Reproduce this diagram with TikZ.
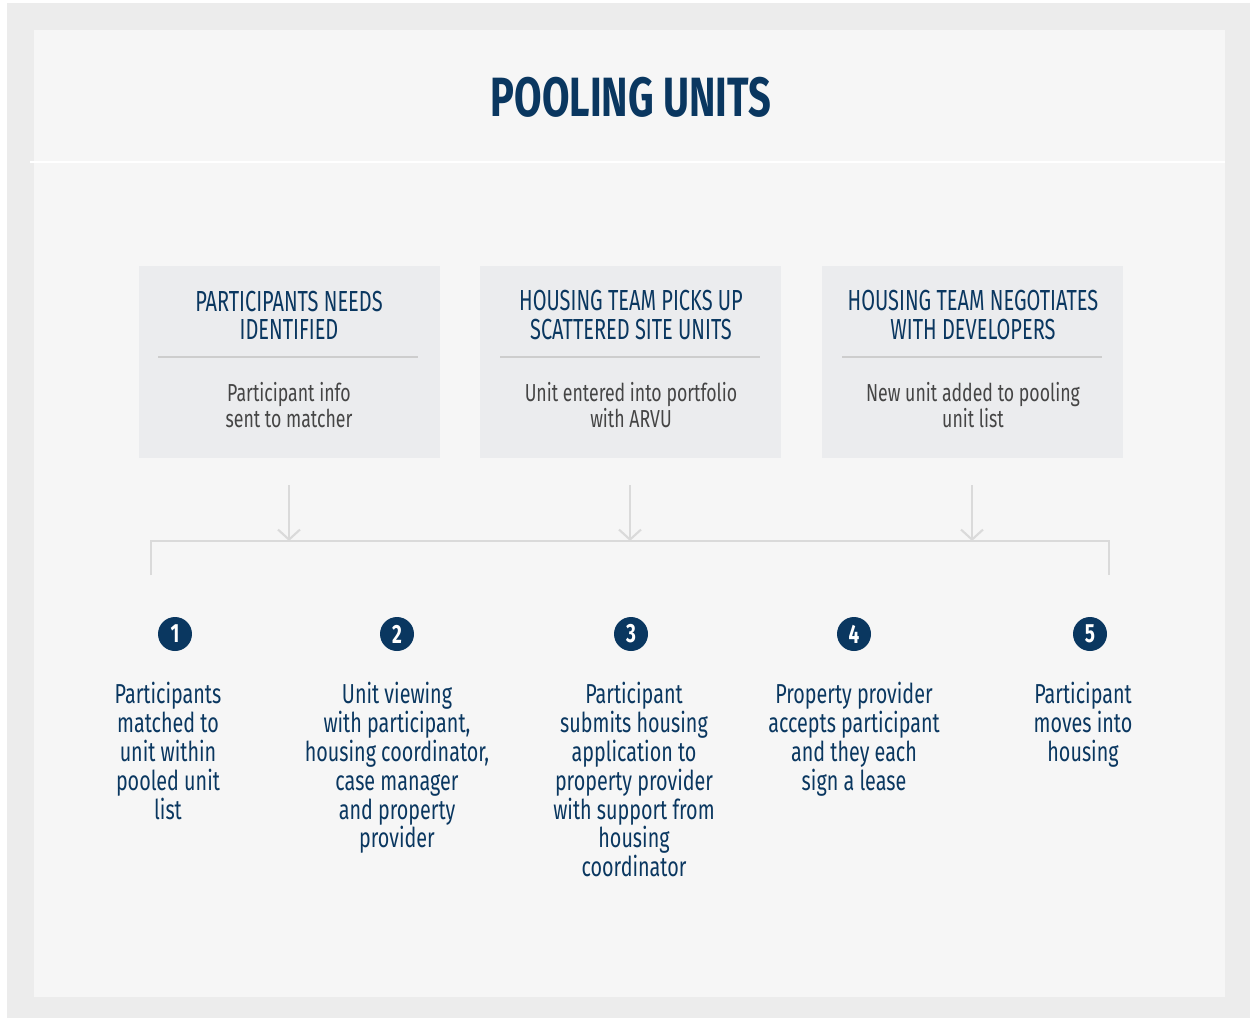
\documentclass[tikz,border=0pt]{standalone}
\usepackage{fontspec}
\setmainfont{Fira Sans}[FakeStretch=0.72]
\newfontfamily\headfont{Fira Sans}[FakeStretch=0.69]
\usetikzlibrary{arrows.meta}

\definecolor{navy}{HTML}{0A3760}
\definecolor{framegray}{HTML}{ECECEC}
\definecolor{panelgray}{HTML}{F6F6F6}
\definecolor{boxgray}{HTML}{EBECEE}
\definecolor{rulegray}{HTML}{CDCDCD}
\definecolor{linkgray}{HTML}{DADADA}
\definecolor{subgray}{HTML}{454545}

\tikzset{
  stagebox/.style={fill=boxgray, minimum width=6.02cm, minimum height=3.84cm, inner sep=0pt},
  stagehead/.style={text=navy, align=center, font=\headfont\fontsize{16.5}{16}\selectfont},
  stagesub/.style={text=subgray, align=center, font=\fontsize{14}{14.8}\selectfont},
  stepnum/.style={circle, fill=navy, minimum size=0.68cm, inner sep=0pt, text=white, font=\bfseries\fontsize{15}{15}\selectfont},
  steptext/.style={text=navy, align=center, anchor=north, inner sep=0pt, font=\fontsize{15.6}{16.4}\selectfont},
  link/.style={draw=linkgray, line width=1.2pt},
  linkarrow/.style={link, -{Straight Barb[length=0.2cm, width=0.44cm, line width=1.2pt]}}
}

\begin{document}
\begin{tikzpicture}[x=0.02cm, y=-0.02cm]
% frame and panel
\fill[white] (0,0) rectangle (1250,1018);
\fill[framegray] (7,3) rectangle (1250,1018);
\fill[panelgray] (34,30) rectangle (1225,997);
\draw[white, line width=1.5pt] (30,162) -- (1225,162);

\node[text=navy, font=\bfseries\fontsize{31.5}{31}\selectfont] (title) at (631,97) {POOLING UNITS};

% top stages
\node[stagebox] (boxA) at (289.5,362) {};
\node[stagebox] (boxB) at (630.5,362) {};
\node[stagebox] (boxC) at (972.5,362) {};

\node[stagehead] (headA) at (289,315) {PARTICIPANTS NEEDS\\IDENTIFIED};
\node[stagehead] (headB) at (631,315) {HOUSING TEAM PICKS UP\\SCATTERED SITE UNITS};
\node[stagehead] (headC) at (973,315) {HOUSING TEAM NEGOTIATES\\WITH DEVELOPERS};

\draw[rulegray, line width=1.2pt] (158,357) -- (418,357);
\draw[rulegray, line width=1.2pt] (500,357) -- (760,357);
\draw[rulegray, line width=1.2pt] (842,357) -- (1102,357);

\node[stagesub] (subA) at (289,405) {Participant info\\sent to matcher};
\node[stagesub] (subB) at (631,405) {Unit entered into portfolio\\with ARVU};
\node[stagesub] (subC) at (973,405) {New unit added to pooling\\unit list};

% bracket joining the stages to the steps
\coordinate (barL) at (151,575);
\coordinate (barR) at (1109,575);
\coordinate (bar) at (630,541);
\draw[link] (barL) -- (barL |- bar) -- (barR |- bar) -- (barR);

\coordinate (outA) at (289,485);
\coordinate (outB) at (630,485);
\coordinate (outC) at (972,485);
\draw[linkarrow] (outA) -- (outA |- bar);
\draw[linkarrow] (outB) -- (outB |- bar);
\draw[linkarrow] (outC) -- (outC |- bar);

% steps
\node[stepnum] (n1) at (175,634) {1};
\node[stepnum] (n2) at (397,634) {2};
\node[stepnum] (n3) at (631,634) {3};
\node[stepnum] (n4) at (854,634) {4};
\node[stepnum] (n5) at (1090,634) {5};

\node[steptext] (s1) at (168,682) {Participants\\matched to\\unit within\\pooled unit\\list};
\node[steptext] (s2) at (397,682) {Unit viewing\\with participant,\\housing coordinator,\\case manager\\and property\\provider};
\node[steptext] (s3) at (634,682) {Participant\\submits housing\\application to\\property provider\\with support from\\housing\\coordinator};
\node[steptext] (s4) at (854,682) {Property provider\\accepts participant\\and they each\\sign a lease};
\node[steptext] (s5) at (1083,682) {Participant\\moves into\\housing};
\end{tikzpicture}
\end{document}
